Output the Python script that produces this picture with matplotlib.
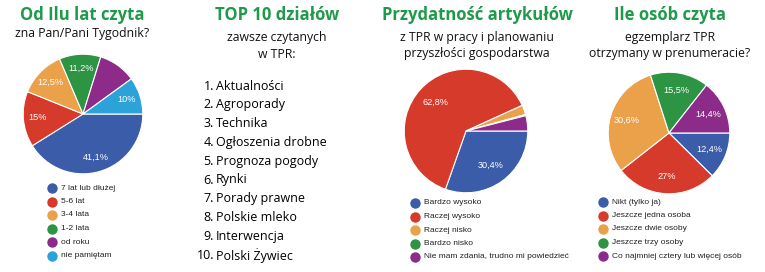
import matplotlib
matplotlib.use('Agg')
import matplotlib.pyplot as plt
import numpy as np

W, H = 765, 272

# kolory (paleta wykresów Google, lekko przygaszona)
BLUE = '#3b5ca8'
RED = '#d63a2a'
ORANGE = '#eba04a'
GREEN = '#2d9443'
PURPLE = '#8d2b8a'
CYAN = '#2ba3d9'
TITLE_GREEN = '#1f9a4a'

# wykres 1
lata_labels = ['7 lat lub dłużej', '5-6 lat', '3-4 lata', '1-2 lata', 'od roku', 'nie pamiętam']
lata_values = [41.1, 15.0, 12.5, 11.2, 10.2, 10.0]
lata_pct = ['41,1%', '15%', '12,5%', '11,2%', '', '10%']

# lista TOP 10
top10 = ['Aktualności', 'Agroporady', 'Technika', 'Ogłoszenia drobne', 'Prognoza pogody',
         'Rynki', 'Porady prawne', 'Polskie mleko', 'Interwencja', 'Polski Żywiec']

# wykres 3
przyd_labels = ['Bardzo wysoko', 'Raczej wysoko', 'Raczej nisko', 'Bardzo nisko',
                'Nie mam zdania, trudno mi powiedzieć']
przyd_values = [30.4, 62.8, 2.5, 0.3, 4.0]
przyd_pct = ['30,4%', '62,8%', '', '', '']

# wykres 4
osoby_labels = ['Nikt (tylko ja)', 'Jeszcze jedna osoba', 'Jeszcze dwie osoby',
                'Jeszcze trzy osoby', 'Co najmniej cztery lub więcej osób']
osoby_values = [12.4, 27.0, 30.6, 15.5, 14.4]
osoby_pct = ['12,4%', '27%', '30,6%', '15,5%', '14,4%']

colors = [BLUE, RED, ORANGE, GREEN, PURPLE, CYAN]

fig = plt.figure(figsize=(W / 100, H / 100), dpi=100)
fig.patch.set_facecolor('white')
bg = fig.add_axes([0, 0, 1, 1])
bg.set_xlim(0, W)
bg.set_ylim(H, 0)
bg.axis('off')


def pie(cx, cy, r, values, pct, pctdist=0.72):
    ax = fig.add_axes([(cx - r) / W, (H - cy - r) / H, 2 * r / W, 2 * r / H])
    wedges, _ = ax.pie(values, colors=colors[:len(values)], startangle=0, counterclock=False,
                       radius=1, wedgeprops=dict(edgecolor='white', linewidth=0.8))
    for w, t in zip(wedges, pct):
        if not t:
            continue
        a = np.deg2rad((w.theta1 + w.theta2) / 2)
        ax.text(pctdist * np.cos(a), pctdist * np.sin(a), t, color='white',
                fontsize=6.6, ha='center', va='center', family='Liberation Sans')
    ax.set_xlim(-1.02, 1.02)
    ax.set_ylim(-1.02, 1.02)
    ax.axis('off')


def legend(x, y0, step, labels):
    for i, lab in enumerate(labels):
        y = y0 + i * step
        bg.plot(x, y, 'o', color=colors[i], markersize=7.5, markeredgewidth=0)
        bg.text(x + 9, y, lab, fontsize=6, va='center', ha='left',
                family='Liberation Sans', color='#222222')


def titles(cx, title, subs, y_sub0=33, step=17):
    bg.text(cx, 15, title, color=TITLE_GREEN, fontsize=12, fontweight='bold',
            ha='center', va='center', family='Open Sans')
    for i, s in enumerate(subs):
        bg.text(cx, y_sub0 + i * step, s, fontsize=8.8, ha='center', va='center',
                family='Open Sans', color='#111111')


# 1
titles(82, 'Od Ilu lat czyta', ['zna Pan/Pani Tygodnik?'], y_sub0=34)
pie(83, 114, 61, lata_values, lata_pct, pctdist=0.76)
legend(52, 188, 13.5, lata_labels)

# 2
titles(277, 'TOP 10 działów', ['zawsze czytanych', 'w TPR:'], y_sub0=37)
for i, item in enumerate(top10):
    y = 86 + i * 18.8
    bg.text(214, y, f'{i + 1}.', fontsize=9, ha='right', va='center', family='Open Sans')
    bg.text(216, y, item, fontsize=9, ha='left', va='center', family='Open Sans')

# 3
titles(477, 'Przydatność artykułów', ['z TPR w pracy i planowaniu', 'przyszłości gospodarstwa'], y_sub0=37)
pie(466, 131, 63, przyd_values, przyd_pct, pctdist=0.68)
legend(415, 203, 13.5, przyd_labels)

# 4
titles(670, 'Ile osób czyta', ['egzemplarz TPR', 'otrzymany w prenumeracie?'], y_sub0=37)
pie(669, 133, 62, osoby_values, osoby_pct, pctdist=0.72)
legend(603, 202, 13.5, osoby_labels)

fig.savefig('out.png', dpi=100)
